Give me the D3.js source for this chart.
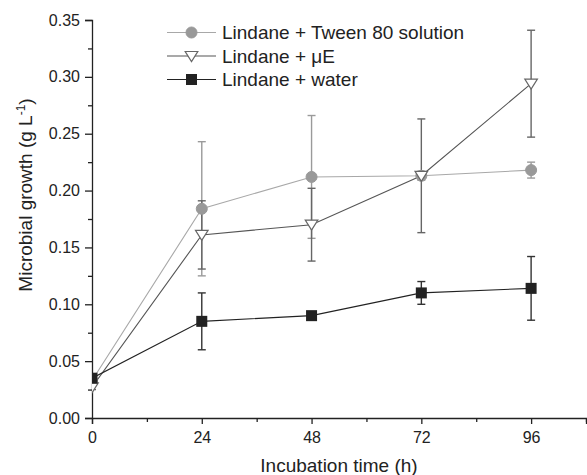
<!DOCTYPE html>
<html>
<head>
<meta charset="utf-8">
<script src="https://cdn.jsdelivr.net/npm/d3@7"></script>
<style>
  body { margin: 0; background: #fff; }
  text { font-family: "Liberation Sans", Arial, sans-serif; fill: #222; }
</style>
</head>
<body>
<div id="chart"></div>
<script>
// data
const hours = [0, 24, 48, 72, 96];
const tweenMean = [0.033, 0.184, 0.212, 0.213, 0.218];
const tweenErr = [0.002, 0.059, 0.054, 0.004, 0.007];
const microMean = [0.027, 0.161, 0.170, 0.213, 0.294];
const microErr = [0.002, 0.030, 0.032, 0.050, 0.047];
const waterMean = [0.035, 0.085, 0.090, 0.110, 0.114];
const waterErr = [0.003, 0.025, 0.002, 0.010, 0.028];
const xTicks = [0, 24, 48, 72, 96];
const yTicks = [0, 0.05, 0.10, 0.15, 0.20, 0.25, 0.30, 0.35];

const series = [
  { name: "Lindane + Tween 80 solution", mean: tweenMean, err: tweenErr, shape: "circle", line: "#a8a8a8", err_c: "#9a9a9a", fill: "#999" },
  { name: "Lindane + \u03bcE", mean: microMean, err: microErr, shape: "triangle", line: "#555", err_c: "#666", fill: "#fff" },
  { name: "Lindane + water", mean: waterMean, err: waterErr, shape: "square", line: "#222", err_c: "#333", fill: "#222" }
];

const W = 587, H = 475;
const margin = { top: 20, right: 1, bottom: 57, left: 92 };
const width = W - margin.left - margin.right,
      height = H - margin.top - margin.bottom;

const svg = d3.select("#chart").append("svg")
  .attr("width", W).attr("height", H);

const g = svg.append("g")
  .attr("transform", `translate(${margin.left},${margin.top})`);

const x = d3.scaleLinear().domain([0, 108]).range([0, width]);
const y = d3.scaleLinear().domain([0, 0.35]).range([height, 0]);

svg.append("defs").append("clipPath").attr("id", "clip")
  .append("rect").attr("x", 0).attr("y", -20).attr("width", width + 10).attr("height", height + 20);

// axes
const xAxis = d3.axisBottom(x).tickValues(xTicks).tickFormat(d3.format("d")).tickSize(6).tickPadding(8);
const xMinor = d3.axisBottom(x).tickValues([12, 36, 60, 84, 108]).tickFormat("").tickSize(4);
const yAxis = d3.axisLeft(y).tickValues(yTicks).tickFormat(d3.format(".2f")).tickSize(7).tickPadding(5);
const yMinor = d3.axisLeft(y).tickValues([0.025, 0.075, 0.125, 0.175, 0.225, 0.275, 0.325]).tickFormat("").tickSize(4);

function styleAxis(sel) {
  sel.selectAll("path, line").attr("stroke", "#222").attr("stroke-width", 1.3);
  sel.selectAll("text").style("font-size", "16px").attr("fill", "#222");
}

g.append("g").attr("transform", `translate(0,${height})`).call(xAxis).call(styleAxis);
g.append("g").attr("transform", `translate(0,${height})`).call(xMinor).call(styleAxis)
  .select(".domain").remove();
g.append("g").call(yAxis).call(styleAxis);
g.append("g").call(yMinor).call(styleAxis).select(".domain").remove();

// axis titles
svg.append("text")
  .attr("x", 339).attr("y", 472)
  .attr("text-anchor", "middle")
  .style("font-size", "19px")
  .text("Incubation time (h)");

const yt = svg.append("text")
  .attr("transform", "translate(32,195) rotate(-90)")
  .attr("text-anchor", "middle")
  .style("font-size", "19px");
yt.append("tspan").text("Microbial growth (g L");
yt.append("tspan").attr("dy", -7).style("font-size", "12px").text("-1");
yt.append("tspan").attr("dy", 7).text(")");

// symbols
function drawMarker(sel, s, cx, cy) {
  if (s.shape === "circle") {
    sel.append("circle").attr("cx", cx).attr("cy", cy).attr("r", 5.5)
      .attr("fill", s.fill).attr("stroke", s.fill);
  } else if (s.shape === "square") {
    sel.append("rect").attr("x", cx - 5.5).attr("y", cy - 5.5)
      .attr("width", 11).attr("height", 11).attr("fill", s.fill);
  } else {
    sel.append("path")
      .attr("d", `M${cx - 6.3},${cy - 4.5} L${cx + 6.3},${cy - 4.5} L${cx},${cy + 5.5} Z`)
      .attr("fill", "#fff").attr("stroke", "#666").attr("stroke-width", 1.2);
  }
}

const plot = g.append("g").attr("clip-path", "url(#clip)");

const line = d3.line().x((d, i) => x(hours[i])).y(d => y(d));

series.forEach(s => {
  plot.append("path").datum(s.mean)
    .attr("d", line)
    .attr("fill", "none")
    .attr("stroke", s.line)
    .attr("stroke-width", 1.1);
});

series.forEach(s => {
  const eb = plot.append("g");
  s.mean.forEach((m, i) => {
    const cx = x(hours[i]);
    const y1 = y(m + s.err[i]), y2 = y(m - s.err[i]);
    eb.append("line").attr("x1", cx).attr("x2", cx).attr("y1", y1).attr("y2", y2)
      .attr("stroke", s.err_c).attr("stroke-width", 1.4);
    [y1, y2].forEach(yy => eb.append("line")
      .attr("x1", cx - 4).attr("x2", cx + 4).attr("y1", yy).attr("y2", yy)
      .attr("stroke", s.err_c).attr("stroke-width", 1.4));
  });
});

series.forEach(s => {
  const mk = plot.append("g");
  s.mean.forEach((m, i) => drawMarker(mk, s, x(hours[i]), y(m)));
});

// legend
const leg = svg.append("g");
series.forEach((s, i) => {
  const ly = 32.5 + i * 23.5;
  leg.append("line").attr("x1", 167).attr("x2", 216).attr("y1", ly).attr("y2", ly)
    .attr("stroke", s.line).attr("stroke-width", 1.1);
  drawMarker(leg, s, 191.5, ly);
  leg.append("text").attr("x", 222).attr("y", ly + 6.8)
    .style("font-size", "19px").text(s.name);
});
</script>
</body>
</html>
